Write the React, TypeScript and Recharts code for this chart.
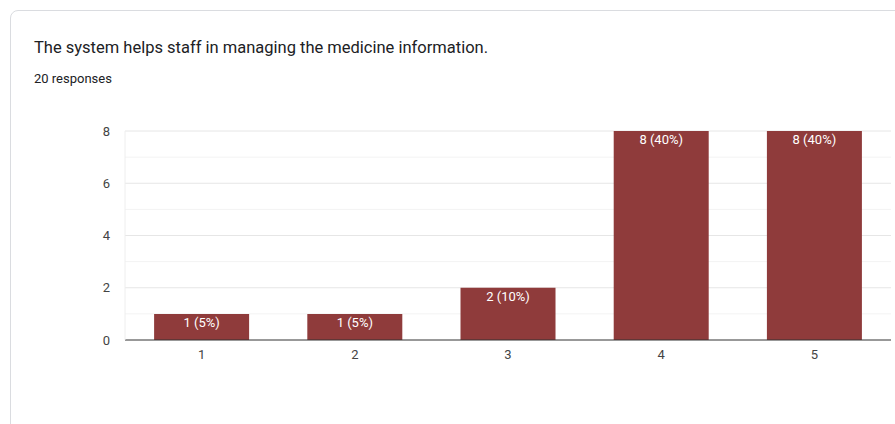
import React from "react";
import { BarChart, Bar, XAxis, YAxis, CartesianGrid, LabelList } from "recharts";

const categories = ["1", "2", "3", "4", "5"];
const counts = [1, 1, 2, 8, 8];
const totalResponses = 20;
const majorTicks = [0, 2, 4, 6, 8];
const minorLines = [1, 3, 5, 7];
const title = "The system helps staff in managing the medicine information.";
const subtitle = "20 responses";

const data = categories.map((c, i) => ({ name: c, value: counts[i] }));

const font = "Roboto, Arial, sans-serif";

export default function App() {
  return (
    <div style={{ position: "fixed", left: 0, top: 0, width: 895, height: 424, background: "#fff", overflow: "hidden", fontFamily: font }}>
      <div style={{ position: "absolute", left: 10, top: 10, width: 900, height: 430, border: "1px solid #dadce0", borderRadius: 8, boxSizing: "border-box" }} />
      <div style={{ position: "absolute", left: 34, top: 38, fontSize: 16.5, color: "#202124", whiteSpace: "nowrap" }}>{title}</div>
      <div style={{ position: "absolute", left: 34, top: 71, fontSize: 13, color: "#202124", whiteSpace: "nowrap" }}>{subtitle}</div>
      <div style={{ position: "absolute", left: 0, top: 0 }}>
        <BarChart width={895} height={424} data={data} margin={{ top: 131, right: 4, bottom: 60, left: 95 }} barCategoryGap="19%">
          <CartesianGrid vertical={false} horizontalValues={minorLines} stroke="#f3f3f3" />
          <CartesianGrid vertical={false} horizontalValues={majorTicks.filter((v) => v > 0)} stroke="#e6e6e6" />
          <XAxis dataKey="name" axisLine={{ stroke: "#333", strokeWidth: 1 }} tickLine={false} tickMargin={4} height={24} tick={{ fill: "#444", fontSize: 13, fontFamily: font }} />
          <YAxis domain={[0, 8]} ticks={majorTicks} width={30} axisLine={{ stroke: "#eeeeee" }} tickLine={false} tickMargin={9} tick={{ fill: "#444", fontSize: 13, fontFamily: font }} />
          <Bar dataKey="value" fill="#8f3b3b" isAnimationActive={false}>
            <LabelList
              dataKey="value"
              position="insideTop"
              offset={4}
              fill="#ffffff"
              fontSize={13}
              fontFamily={font}
              formatter={(v: number) => `${v} (${Math.round((v / totalResponses) * 100)}%)`}
            />
          </Bar>
        </BarChart>
      </div>
    </div>
  );
}
